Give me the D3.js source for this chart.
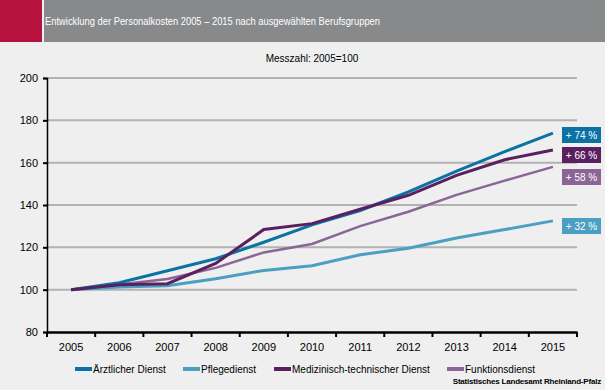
<!DOCTYPE html>
<html>
<head>
<meta charset="utf-8">
<script src="https://cdn.jsdelivr.net/npm/d3@7"></script>
<style>
body{margin:0;background:#eeefee;font-family:"Liberation Sans",Arial,sans-serif;}
</style>
</head>
<body>
<div id="chart"></div>
<script>
// Messzahl 2005=100
var years = ["2005","2006","2007","2008","2009","2010","2011","2012","2013","2014","2015"];
var aerztlich = [100,103.3,108.9,114.6,122.4,130.6,137.4,146.2,156,165.2,174];
var pflege    = [100,101.2,101.9,105.2,109.1,111.3,116.5,119.6,124.4,128.4,132.5];
var medizin   = [100,102.3,102.8,112.4,128.4,131.2,138,144.6,154,161.4,166];
var funktion  = [100,102.4,105,110.3,117.6,121.6,130,136.8,144.8,151.5,158];
var seriesNames = ["Ärztlicher Dienst","Pflegedienst","Medizinisch-technischer Dienst","Funktionsdienst"];
var endLabels = ["+ 74 %","+ 32 %","+ 66 %","+ 58 %"];
var yTicks = [80,100,120,140,160,180,200];

var colors = ["#0b72a4","#4b9fc3","#5b1f5f","#8a6595"];
var widths = [3,3,3,2.5];
var allSeries = [aerztlich,pflege,medizin,funktion];

var W = 605, H = 390;
var svg = d3.select("#chart").append("svg").attr("width",W).attr("height",H);
svg.append("rect").attr("width",W).attr("height",H).attr("fill","#eeefee");

// header
svg.append("rect").attr("x",0).attr("y",0).attr("width",42).attr("height",42).attr("fill","#b5123e");
svg.append("rect").attr("x",44).attr("y",0).attr("width",W-44).attr("height",42).attr("fill","#88898b");
svg.append("text").attr("x",45).attr("y",25).attr("fill","#fff").attr("font-size","11px")
    .attr("textLength",335).attr("lengthAdjust","spacingAndGlyphs")
    .text("Entwicklung der Personalkosten 2005 – 2015  nach ausgewählten Berufsgruppen");

svg.append("text").attr("x",312).attr("y",62).attr("text-anchor","middle").attr("font-size","10px").attr("fill","#000")
    .text("Messzahl: 2005=100");

var x = d3.scaleBand().domain(years).range([47,577]);
var y = d3.scaleLinear().domain([80,200]).range([332,78]);

// gridlines
svg.append("g").selectAll("line").data(yTicks.filter(function(d){return d>80;})).enter().append("line")
    .attr("x1",47).attr("x2",577)
    .attr("y1",function(d){return y(d);}).attr("y2",function(d){return y(d);})
    .attr("stroke","#b2b2b2").attr("stroke-width",2);

// axes
var yAxis = svg.append("g").attr("transform","translate(47,0)")
    .call(d3.axisLeft(y).tickValues(yTicks).tickSize(4).tickPadding(5));
yAxis.select(".domain").attr("stroke","#000").attr("stroke-width",1.5);
yAxis.selectAll(".tick line").attr("stroke","#000").attr("stroke-width",2);
yAxis.selectAll("text").attr("font-size","11px").attr("font-family","Liberation Sans, Arial, sans-serif").attr("fill","#000");

var xAxis = svg.append("g").attr("transform","translate(0,332)")
    .call(d3.axisBottom(x).tickSize(0).tickPadding(11));
xAxis.select(".domain").attr("stroke","#000").attr("stroke-width",2.5);
xAxis.selectAll("text").attr("font-size","11px").attr("font-family","Liberation Sans, Arial, sans-serif").attr("fill","#000");
// ticks at band edges
var edges = years.map(function(d){return x(d);}).concat([x.range()[1]]);
svg.append("g").selectAll("line").data(edges).enter().append("line")
    .attr("x1",function(d){return d;}).attr("x2",function(d){return d;})
    .attr("y1",332).attr("y2",337).attr("stroke","#000").attr("stroke-width",2);

// lines
var line = d3.line()
    .x(function(d,i){return x(years[i])+x.bandwidth()/2;})
    .y(function(d){return y(d);});
var order = [1,3,0,2];
order.forEach(function(k){
    svg.append("path").datum(allSeries[k]).attr("d",line)
        .attr("fill","none").attr("stroke",colors[k]).attr("stroke-width",widths[k]);
});

// end labels
var labelY = [135,226,155,177];
allSeries.forEach(function(s,k){
    svg.append("rect").attr("x",562).attr("y",labelY[k]-8).attr("width",39).attr("height",16).attr("fill",colors[k]);
    svg.append("text").attr("x",581.5).attr("y",labelY[k]+4).attr("text-anchor","middle")
        .attr("fill","#fff").attr("font-size","10px").text(endLabels[k]);
});

// legend
var legX = [75,183,274,447];
seriesNames.forEach(function(n,k){
    svg.append("line").attr("x1",legX[k]).attr("x2",legX[k]+17).attr("y1",369).attr("y2",369)
        .attr("stroke",colors[k]).attr("stroke-width",4);
    svg.append("text").attr("x",legX[k]+18).attr("y",373).attr("font-size","10px").attr("fill","#000").text(n);
});

svg.append("text").attr("x",601).attr("y",384).attr("text-anchor","end").attr("font-size","8px")
    .attr("font-weight","bold").attr("fill","#000").attr("letter-spacing","-0.2")
    .text("Statistisches Landesamt Rheinland-Pfalz");
</script>
</body>
</html>
